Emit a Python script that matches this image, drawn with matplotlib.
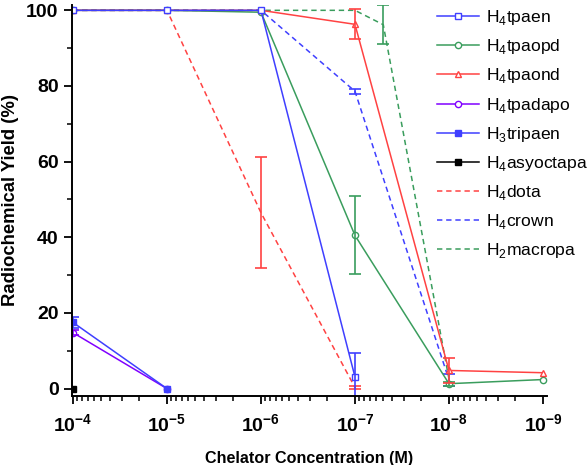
import matplotlib
matplotlib.use('Agg')
import matplotlib.pyplot as plt
import numpy as np
from matplotlib.ticker import FixedLocator, LogLocator, MultipleLocator, NullFormatter

plt.rcParams['font.family'] = ['Liberation Sans', 'DejaVu Sans']
plt.rcParams['mathtext.fontset'] = 'custom'
plt.rcParams['mathtext.rm'] = 'Liberation Sans'
plt.rcParams['mathtext.bf'] = 'Liberation Sans:bold'

# data
conc = [1e-4, 1e-5, 1e-6, 1e-7, 1e-8, 1e-9]

tpaen_x = [1e-4, 1e-5, 1e-6, 1e-7]
tpaen_y = [100, 100, 100, 3.1]
tpaen_err = [0, 0, 0, 6.2]

tpaopd_x = conc
tpaopd_y = [100, 100, 99.5, 40.5, 1.3, 2.4]
tpaopd_err = [0, 0, 0, 10.3, 0.5, 0]

tpaond_x = conc
tpaond_y = [100, 100, 100, 96.3, 4.8, 4.2]
tpaond_err = [0, 0, 0, 4.0, 3.4, 0]

tpadapo_x = [1e-4, 1e-5]
tpadapo_y = [14.8, 0]
tpadapo_err = [0.6, 0]

tripaen_x = [1e-4, 1e-5]
tripaen_y = [17.5, 0]
tripaen_err = [1.4, 0]

asyoctapa_x = [1e-4]
asyoctapa_y = [0]

dota_x = [1e-4, 1e-5, 1e-6, 1e-7]
dota_y = [100, 100, 46.5, 0.3]
dota_err = [0, 0, 14.7, 0.5]

crown_x = [1e-4, 1e-5, 1e-6, 1e-7, 1e-8]
crown_y = [100, 100, 100, 78.6, 2.3]
crown_err = [0, 0, 0, 0.6, 1.5]

macropa_x = [1e-4, 1e-5, 1e-6, 1e-7, 5e-8, 1e-8]
macropa_y = [100, 100, 100, 100, 96.2, 2.5]
macropa_err = [0, 0, 0, 0, 5.1, 0]

blue = '#3f3fff'
green = '#3a9d5d'
red = '#ff4242'
purple = '#8000ff'

fig = plt.figure(figsize=(5.88, 4.65), dpi=100)
ax = fig.add_axes([0.122, 0.148, 0.808, 0.842])


def series(x, y, err, color, ls, marker, mfc, label, ms=4.5):
    ax.plot(x, y, color=color, ls=ls, lw=1.1, marker=marker, ms=ms,
            mfc=mfc, mec=color, mew=1.0, label=label,
            dashes=(3.5, 2.5) if ls == '--' else (None, None))
    if err is not None:
        xe = [a for a, e in zip(x, err) if e > 0]
        ye = [b for b, e in zip(y, err) if e > 0]
        ee = [e for e in err if e > 0]
        if xe:
            ax.errorbar(xe, ye, yerr=ee, fmt='none', ecolor=color,
                        elinewidth=1.2, capsize=4, capthick=1.2)


series(dota_x, dota_y, dota_err, red, '--', None, 'none', r'H$_\mathregular{4}$dota')
series(crown_x, crown_y, crown_err, blue, '--', None, 'none', r'H$_\mathregular{4}$crown')
series(macropa_x, macropa_y, macropa_err, green, '--', None, 'none', r'H$_\mathregular{2}$macropa')
series(tpaopd_x, tpaopd_y, tpaopd_err, green, '-', 'o', 'white', r'H$_\mathregular{4}$tpaopd')
series(tpaond_x, tpaond_y, tpaond_err, red, '-', '^', 'white', r'H$_\mathregular{4}$tpaond')
series(tpaen_x, tpaen_y, tpaen_err, blue, '-', 's', 'white', r'H$_\mathregular{4}$tpaen')
series(tpadapo_x, tpadapo_y, tpadapo_err, purple, '-', 'o', 'white', r'H$_\mathregular{4}$tpadapo')
series(tripaen_x, tripaen_y, tripaen_err, blue, '-', 's', blue, r'H$_\mathregular{3}$tripaen')
series(asyoctapa_x, asyoctapa_y, None, 'black', '-', 's', 'black', r'H$_\mathregular{4}$asyoctapa', ms=4)

ax.set_xscale('log')
ax.set_xlim(1.03e-4, 0.91e-9)
ax.set_ylim(-2, 101.5)

ax.xaxis.set_major_locator(FixedLocator(conc))
ax.xaxis.set_minor_locator(LogLocator(base=10, subs=np.arange(2, 10)))
ax.xaxis.set_minor_formatter(NullFormatter())
ax.set_xticklabels([r'$\mathbf{10^{%d}}$' % int(np.log10(c)) for c in conc])
ax.yaxis.set_major_locator(MultipleLocator(20))
ax.yaxis.set_minor_locator(MultipleLocator(10))

for s in ['top', 'right']:
    ax.spines[s].set_visible(False)
for s in ['left', 'bottom']:
    ax.spines[s].set_linewidth(1.4)

ax.tick_params(which='major', direction='out', length=6, width=1.3,
               labelsize=14)
ax.tick_params(axis='x', which='major', pad=6)
ax.tick_params(which='minor', direction='out', length=3.5, width=1.1)
for t in ax.get_yticklabels():
    t.set_fontweight('bold')

ax.set_xlabel('Chelator Concentration (M)', fontsize=11.6, fontweight='bold', labelpad=12)
ax.set_ylabel('Radiochemical Yield (%)', fontsize=13.3, fontweight='bold', labelpad=5)

handles, labels = ax.get_legend_handles_labels()
order = [r'H$_\mathregular{4}$tpaen', r'H$_\mathregular{4}$tpaopd', r'H$_\mathregular{4}$tpaond',
         r'H$_\mathregular{4}$tpadapo', r'H$_\mathregular{3}$tripaen', r'H$_\mathregular{4}$asyoctapa',
         r'H$_\mathregular{4}$dota', r'H$_\mathregular{4}$crown', r'H$_\mathregular{2}$macropa']
hmap = dict(zip(labels, handles))
fig.legend([hmap[k] for k in order], order, loc='upper left',
           bbox_to_anchor=(0.726, 1.005), frameon=False, fontsize=12.6,
           handlelength=2.4, handletextpad=0.35, labelspacing=0.58,
           borderpad=0.1, numpoints=1)

fig.savefig('out.png', dpi=100)
